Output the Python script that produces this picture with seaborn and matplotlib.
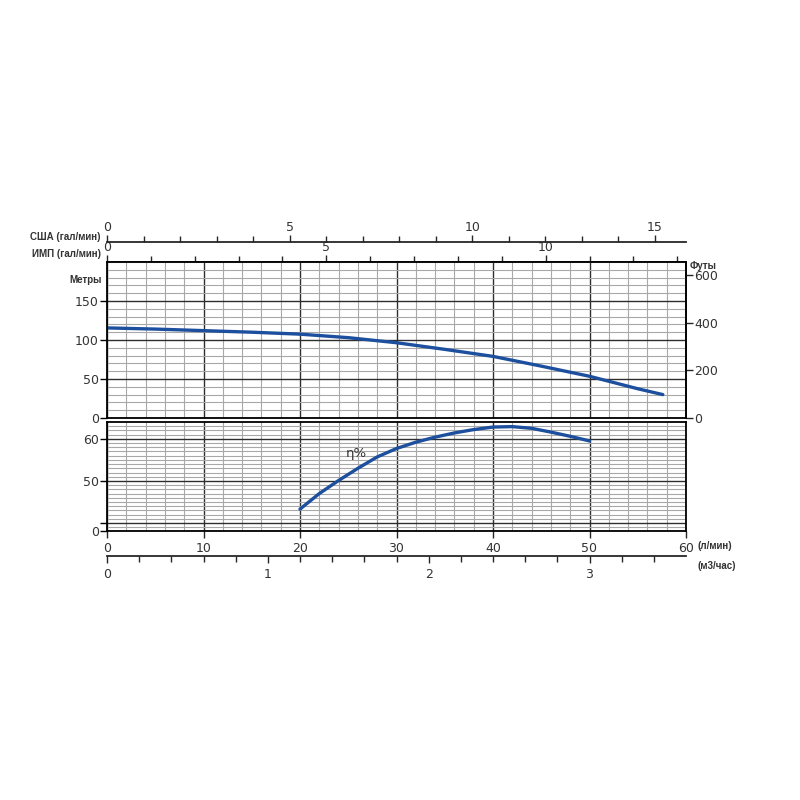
import matplotlib
matplotlib.use("Agg")
import matplotlib.pyplot as plt
from matplotlib.ticker import MultipleLocator, FixedLocator
import numpy as np
import pandas as pd
import seaborn as sns

# ---- data ----
flow_head = [0, 5, 10, 15, 20, 25, 30, 35, 40, 45, 50, 55, 57.6]
head_m = [115.5, 114, 112, 110, 107.5, 103, 96.5, 88, 79, 66.5, 53.5, 37.5, 30]

flow_eff = [20, 22, 24, 26, 28, 30, 32, 34, 36, 38, 40, 42, 44, 46, 48, 50]
eff_pct = [43.3, 47.0, 50.1, 53.0, 55.7, 57.7, 59.2, 60.4, 61.4, 62.2, 62.8, 62.9, 62.5, 61.6, 60.6, 59.5]

flow_ticks = [0, 10, 20, 30, 40, 50, 60]
head_ticks = [0, 50, 100, 150]
feet_ticks = [0, 200, 400, 600]
eff_ticks = [38.1, 40, 50, 60]
eff_tick_labels = ["0", "", "50", "60"]
usg_ticks = [0, 5, 10, 15]
usg_minor = list(range(0, 16))
impg_ticks = [0, 5, 10]
impg_minor = list(range(0, 14))
m3h_ticks = [0, 1, 2, 3]
m3h_minor = [round(0.2 * i, 1) for i in range(0, 19)]

LPM_PER_USG = 3.785
LPM_PER_IMPG = 4.546
LPM_PER_M3H = 16.667
FT_PER_M = 3.2808

sns.set_style("white")
plt.rcParams['font.family'] = ['DejaVu Sans']

LINE = '#1c4f9e'
DARK = '#2e2e2e'
LIGHT = '#a8a8a8'
FS = 9

fig = plt.figure(figsize=(8, 8), dpi=100)
ax1 = fig.add_axes([107/800, 1-418/800, 579/800, 156/800])
ax2 = fig.add_axes([107/800, 1-531/800, 579/800, 109/800])

df_h = pd.DataFrame({"flow": flow_head, "head": head_m})
df_e = pd.DataFrame({"flow": flow_eff, "eff": eff_pct})
sns.lineplot(data=df_h, x="flow", y="head", ax=ax1, color=LINE, lw=2.4, sort=False)
sns.lineplot(data=df_e, x="flow", y="eff", ax=ax2, color=LINE, lw=2.4, sort=False)

for ax in (ax1, ax2):
    ax.set_xlim(0, 60)
    ax.set_xlabel("")
    ax.set_ylabel("")
    ax.set_axisbelow(True)
    ax.xaxis.set_major_locator(FixedLocator(flow_ticks))
    ax.xaxis.set_minor_locator(MultipleLocator(2))
    ax.grid(which='major', color=DARK, lw=1.0)
    ax.grid(which='minor', color=LIGHT, lw=0.8)
    for s in ax.spines.values():
        s.set_color('black')
        s.set_linewidth(1.3)
        s.set_visible(True)
    ax.tick_params(which='minor', length=0)
    ax.tick_params(axis='y', which='major', direction='out', length=5, width=1,
                   labelsize=FS, pad=1, left=True, colors='black')
    ax.tick_params(axis='y', labelcolor='#333333')

# upper panel
ax1.set_ylim(0, 200)
ax1.yaxis.set_major_locator(FixedLocator(head_ticks))
ax1.yaxis.set_minor_locator(MultipleLocator(10))
ax1.tick_params(axis='x', which='both', bottom=False, labelbottom=False, top=False, labeltop=False)

# lower panel
ax2.set_ylim(38.1, 64)
ax2.yaxis.set_major_locator(FixedLocator(eff_ticks))
ax2.set_yticklabels(eff_tick_labels)
ax2.yaxis.set_minor_locator(FixedLocator(list(range(39, 64))))
ax2.tick_params(axis='x', which='major', direction='out', length=5, width=1,
                labelsize=FS, bottom=True, pad=3, labelcolor='#333333')

# top: IMP gallons (on top spine of upper panel)
imp = ax1.secondary_xaxis('top', functions=(lambda x: x / LPM_PER_IMPG, lambda g: g * LPM_PER_IMPG))
imp.xaxis.set_major_locator(FixedLocator(impg_ticks))
imp.xaxis.set_minor_locator(FixedLocator(impg_minor))
imp.tick_params(which='major', direction='out', length=5, width=1, labelsize=FS, pad=1, labelcolor='#333333')
imp.tick_params(which='minor', direction='out', length=4, width=1)
imp.spines['top'].set_linewidth(1.3)

# top: US gallons, 20 px above
usa = ax1.secondary_xaxis(1 + 20/156, functions=(lambda x: x / LPM_PER_USG, lambda g: g * LPM_PER_USG))
usa.xaxis.set_major_locator(FixedLocator(usg_ticks))
usa.xaxis.set_minor_locator(FixedLocator(usg_minor))
usa.tick_params(which='major', direction='out', length=5, width=1, labelsize=FS, pad=1, labelcolor='#333333')
usa.tick_params(which='minor', direction='out', length=4, width=1)
usa.spines['top'].set_linewidth(1.3)

# right: feet
ft = ax1.secondary_yaxis('right', functions=(lambda m: m * FT_PER_M, lambda f: f / FT_PER_M))
ft.yaxis.set_major_locator(FixedLocator(feet_ticks))
ft.tick_params(direction='out', length=5, width=1, labelsize=FS, pad=1, labelcolor='#333333')
ft.spines['right'].set_linewidth(1.3)

# bottom: m3/h, 25 px below
m3 = ax2.secondary_xaxis(-25/109, functions=(lambda x: x / LPM_PER_M3H, lambda q: q * LPM_PER_M3H))
m3.xaxis.set_major_locator(FixedLocator(m3h_ticks))
m3.xaxis.set_minor_locator(FixedLocator(m3h_minor))
m3.tick_params(which='major', direction='out', length=5, width=1, labelsize=FS, pad=4, labelcolor='#333333')
m3.tick_params(which='minor', direction='out', length=4, width=1)
m3.spines['bottom'].set_linewidth(1.3)

# texts
lab = dict(fontsize=7, fontweight='bold', color='#333333', family=['Liberation Sans', 'DejaVu Sans'])
fig.text(101/800, 1-237/800, "США (гал/мин)", ha='right', va='center', **lab)
fig.text(101/800, 1-254/800, "ИМП (гал/мин)", ha='right', va='center', **lab)
fig.text(86/800, 1-280/800, "Метры", ha='center', va='center', **lab)
fig.text(703/800, 1-266/800, "Футы", ha='center', va='center', **lab)
fig.text(697/800, 1-546/800, "(л/мин)", ha='left', va='center', **lab)
fig.text(697/800, 1-566/800, "(м3/час)", ha='left', va='center', **lab)
ax2.text(25.8, 56.6, "η%", fontsize=9.5, color='#333333', ha='center', va='center')

fig.savefig("out.png", dpi=100, facecolor='white')
